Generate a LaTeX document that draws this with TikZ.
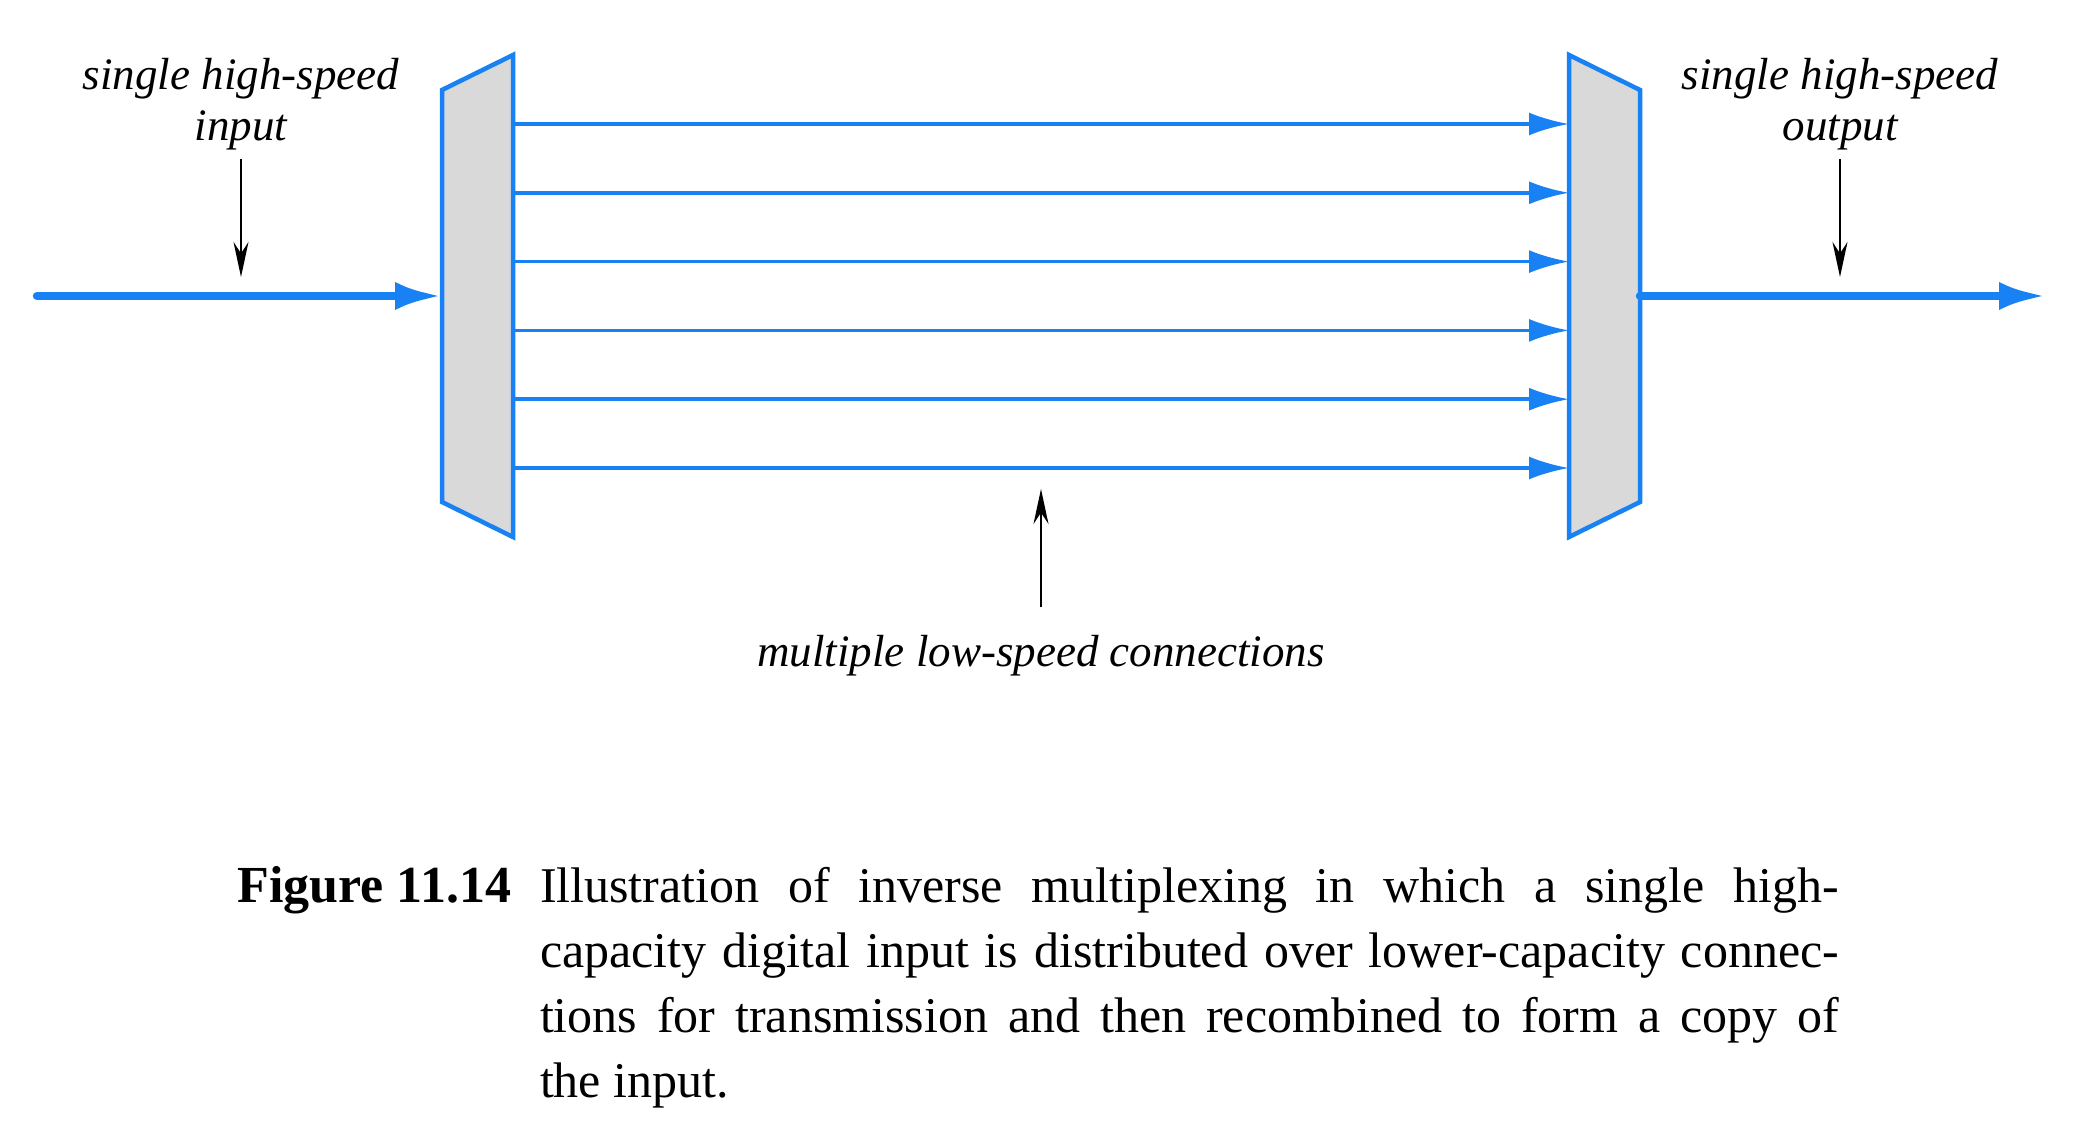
\documentclass[tikz,border=0pt]{standalone}
\usepackage{fontspec}
\setmainfont{Liberation Serif}
\usetikzlibrary{positioning,arrows.meta}
\definecolor{linkblue}{RGB}{24,130,245}
\definecolor{boxgray}{RGB}{217,217,217}
\tolerance=10000
\tikzset{muxbox/.style={draw=linkblue,fill=boxgray,line width=0.9pt,line join=miter}}
\tikzset{fatlink/.style={draw=linkblue,line width=1.7pt,line cap=round,-{Latex[length=9.4pt,width=5.6pt]}}}
\tikzset{lane/.style={draw=linkblue,line width=0.7pt,-{Latex[length=8pt,width=4.6pt]}}}
\tikzset{ptr/.style={draw=black,line width=0.3pt,-{Stealth[length=7pt,width=3pt]}}}
\tikzset{lbl/.style={font=\fontsize{9}{10.2}\selectfont\itshape,align=center,inner sep=1.5pt}}
\tikzset{captext/.style={font=\fontsize{10}{13}\selectfont,inner sep=0pt}}

\begin{document}
\begin{tikzpicture}[x=20pt,y=-20pt]
	\useasboundingbox (0,0) rectangle (20.79,11.48);
	% splitter and combiner
	\draw[muxbox] (4.42,0.90) -- (5.13,0.55) -- (5.13,5.37) -- (4.42,5.02) -- cycle;
	\draw[muxbox] (15.69,0.55) -- (16.40,0.90) -- (16.40,5.02) -- (15.69,5.37) -- cycle;
	\coordinate (src) at (0.37,2.96);
	\coordinate (split) at (4.42,2.96);
	\coordinate (join) at (16.40,2.96);
	\coordinate (dst) at (20.46,2.96);
	\draw[fatlink] (src) -- (split);
	\draw[fatlink] (join) -- (dst);
	\foreach \k in {1,...,6} {
		\coordinate (a\k) at (5.13,{1.24+0.688*(\k-1)});
		\coordinate (b\k) at (15.69,{1.24+0.688*(\k-1)});
		\draw[lane] (a\k) -- (b\k);
	}
	% labels
	\node[lbl,anchor=base] (inlbl) at (2.41,1.41) {single high-speed\\input};
	\node[lbl,anchor=base] (outlbl) at (18.40,1.41) {single high-speed\\output};
	\node[lbl,anchor=base] (lanelbl) at (10.41,6.67) {multiple low-speed connections};
	\coordinate (inhit) at (2.41,2.77);
	\coordinate (outhit) at (18.40,2.77);
	\coordinate (lanehit) at (10.41,4.89);
	\draw[ptr] (inlbl) -- (inhit);
	\draw[ptr] (outlbl) -- (outhit);
	\draw[ptr] ([yshift=4pt]lanelbl.north) -- (lanehit);
	% caption
	\node[captext,anchor=base west,text width=259.8pt,align=justify] (cap) at (5.39,9.03) {Illustration of inverse multiplexing in which a single high-\linebreak capacity digital input is distributed over lower-capacity connec-\linebreak tions for transmission and then recombined to form a copy of\linebreak the input.};
	\node[captext,anchor=base east,font=\fontsize{10.4}{13}\selectfont\bfseries] (fig) at (5.12,9.03) {Figure 11.14};
\end{tikzpicture}
\end{document}
